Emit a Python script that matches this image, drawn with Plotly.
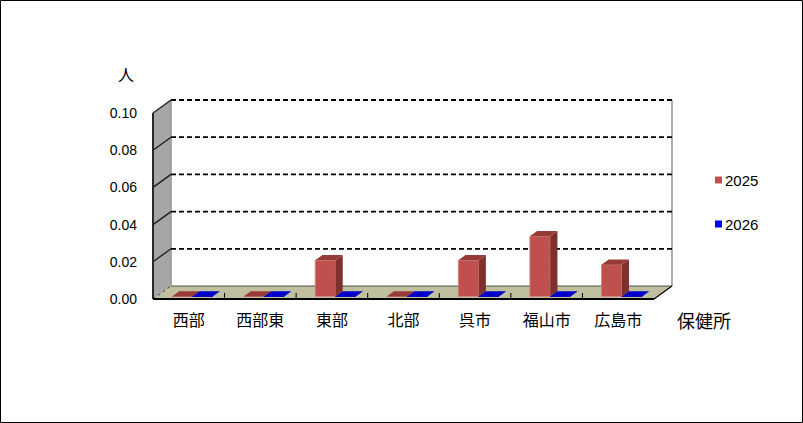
import plotly.graph_objects as go

# data
categories = ["西部", "西部東", "東部", "北部", "呉市", "福山市", "広島市"]
series_names = ["2025", "2026"]
values_2025 = [0, 0, 0.0194, 0, 0.0194, 0.0323, 0.0170]
values_2026 = [0, 0, 0, 0, 0, 0, 0]
y_ticks = [0.0, 0.02, 0.04, 0.06, 0.08, 0.10]
y_title = "人"
x_title = "保健所"

# geometry in pixels
W, H = 803, 423
n = len(categories)
ytop = y_ticks[-1]
FRONT_L, FRONT_R = 153, 654     # front floor edge
ZERO_Y, TOP_Y = 299, 113        # front axis 0 and ytop
FX = (FRONT_R - FRONT_L) / n    # px per category
SY = (ZERO_Y - TOP_Y) / ytop    # px per value unit
DX = 18 / FX                    # depth shift, category units
DY = 13 / SY                    # depth shift, value units
PAD = 4
Z0, Z1 = 0.2, 0.6               # bar depth (fraction of floor depth)
BW = 0.284                      # bar width, category units

L = FRONT_L - PAD
R = FRONT_R + 18 + PAD
T = TOP_Y - 13 - PAD
B = ZERO_Y + PAD

front_cols = ["rgb(192,80,77)", "rgb(0,0,200)"]
edge_cols = ["rgb(214,128,124)", "rgb(0,0,200)"]
top_cols = ["rgb(152,58,55)", "rgb(0,0,200)"]
side_cols = ["rgb(126,48,46)", "rgb(0,0,130)"]
legend_cols = ["rgb(192,80,77)", "rgb(0,0,255)"]

FONT = "Liberation Sans, Noto Sans CJK JP, sans-serif"


def px_x(px):
    return (px - L) / (R - L)


def px_y(py):
    return (B - py) / (B - T)


def polys(shapes_pts):
    xs, ys = [], []
    for pts in shapes_pts:
        for x, y in pts + [pts[0]]:
            xs.append(x)
            ys.append(y)
        xs.append(None)
        ys.append(None)
    return xs, ys


fig = go.Figure()

x0, x1 = -0.5, n - 0.5
shapes = []
# left wall
shapes.append(dict(type="path", layer="below", xref="x", yref="y",
                   path=f"M{x0},0 L{x0},{ytop} L{x0+DX},{ytop+DY} L{x0+DX},{DY} Z",
                   fillcolor="rgb(166,166,166)", line=dict(width=0)))
# floor
shapes.append(dict(type="path", layer="below", xref="x", yref="y",
                   path=f"M{x0},0 L{x1},0 L{x1+DX},{DY} L{x0+DX},{DY} Z",
                   fillcolor="rgb(192,192,160)", line=dict(width=0)))
# back wall edges
for xx in (x0 + DX, x1 + DX):
    shapes.append(dict(type="line", layer="below", xref="x", yref="y",
                       x0=xx, x1=xx, y0=DY, y1=ytop + DY,
                       line=dict(color="rgb(150,150,150)", width=1.5)))
# floor edges
shapes.append(dict(type="line", layer="below", xref="x", yref="y",
                   x0=x0 + DX, x1=x1 + DX, y0=DY, y1=DY,
                   line=dict(color="rgb(80,80,80)", width=1)))
shapes.append(dict(type="line", layer="below", xref="x", yref="y",
                   x0=x1, x1=x1 + DX, y0=0, y1=DY,
                   line=dict(color="black", width=1.2)))
shapes.append(dict(type="line", layer="below", xref="x", yref="y",
                   x0=x0, x1=x0 + DX, y0=0, y1=DY,
                   line=dict(color="rgb(60,60,60)", width=1, dash="dot")))
# gridlines on back wall + side wall
for t in y_ticks[1:]:
    shapes.append(dict(type="line", layer="below", xref="x", yref="y",
                       x0=x0 + DX, x1=x1 + DX, y0=t + DY, y1=t + DY,
                       line=dict(color="black", width=1.8, dash="5px,3px")))
    shapes.append(dict(type="line", layer="below", xref="x", yref="y",
                       x0=x0, x1=x0 + DX, y0=t, y1=t + DY,
                       line=dict(color="rgb(30,30,30)", width=1.4)))
# front axes
shapes.append(dict(type="line", xref="x", yref="y", x0=x0, x1=x0, y0=0, y1=ytop,
                   line=dict(color="rgb(40,40,40)", width=2)))
shapes.append(dict(type="line", xref="x", yref="y", x0=x0, x1=x1, y0=0, y1=0,
                   line=dict(color="black", width=2)))
# category boundary ticks on floor
for i in range(n - 1):
    shapes.append(dict(type="line", xref="x", yref="y", x0=i + 0.5, x1=i + 0.5,
                       y0=0, y1=6 * DY / 13, line=dict(color="black", width=1)))

# bars: front faces, then sides and tops
xs_idx = list(range(n))
all_vals = [values_2025, values_2026]
for k, vals in enumerate(all_vals):
    off = Z0 * DX - BW + k * BW
    fig.add_trace(go.Bar(x=xs_idx, y=vals, base=[Z0 * DY] * n, width=BW, offset=off,
                         marker=dict(color=front_cols[k],
                                     line=dict(width=0.8, color=edge_cols[k])),
                         name=series_names[k], showlegend=False))
    ddx, ddy = (Z1 - Z0) * DX, (Z1 - Z0) * DY
    tops, sides = [], []
    for i, v in enumerate(vals):
        xl = i + off
        xr = xl + BW
        yb = Z0 * DY
        yt = yb + v
        tops.append([(xl, yt), (xr, yt), (xr + ddx, yt + ddy), (xl + ddx, yt + ddy)])
        if v > 0:
            sides.append([(xr, yb), (xr, yt), (xr + ddx, yt + ddy), (xr + ddx, yb + ddy)])
    for pts, col in ((sides, side_cols[k]), (tops, top_cols[k])):
        if not pts:
            continue
        px_, py_ = polys(pts)
        fig.add_trace(go.Scatter(x=px_, y=py_, mode="lines", fill="toself",
                                 fillcolor=col, line=dict(width=0, color=col),
                                 hoverinfo="skip", showlegend=False))

# legend (drawn by hand)
annotations = []
for k, name in enumerate(series_names):
    cy = 180 + 44 * k
    shapes.append(dict(type="rect", xref="paper", yref="paper",
                       x0=px_x(715), x1=px_x(722), y0=px_y(cy + 3.5), y1=px_y(cy - 3.5),
                       fillcolor=legend_cols[k], line=dict(width=0)))
    annotations.append(dict(text=name, xref="paper", yref="paper", x=px_x(723), y=px_y(cy),
                            xanchor="left", yanchor="middle", showarrow=False,
                            font=dict(size=15, color="black", family=FONT)))

annotations.append(dict(text=y_title, xref="paper", yref="paper", x=px_x(126), y=px_y(75),
                        xanchor="center", yanchor="middle", showarrow=False,
                        font=dict(size=16, color="black", family=FONT)))
annotations.append(dict(text=x_title, xref="paper", yref="paper", x=px_x(704), y=px_y(322),
                        xanchor="center", yanchor="middle", showarrow=False,
                        font=dict(size=18, color="black", family=FONT)))

# outer frame
shapes.append(dict(type="rect", xref="paper", yref="paper",
                   x0=px_x(0.5), x1=px_x(W - 0.5), y0=px_y(H - 0.5), y1=px_y(0.5),
                   line=dict(color="black", width=1)))

fig.update_layout(
    width=W, height=H,
    margin=dict(l=L, r=W - R, t=T, b=H - B),
    paper_bgcolor="white", plot_bgcolor="white",
    barmode="overlay",
    font=dict(family=FONT, size=14, color="black"),
    showlegend=False,
    shapes=shapes,
    annotations=annotations,
    xaxis=dict(range=[x0 - PAD / FX, x1 + DX + PAD / FX], tickvals=xs_idx, ticktext=categories,
               showgrid=False, zeroline=False, showline=False, ticks="",
               tickfont=dict(size=16), ticklabelstandoff=10 - PAD, fixedrange=True),
    yaxis=dict(range=[-PAD / SY, ytop + DY + PAD / SY], tickvals=y_ticks, tickformat=".2f",
               showgrid=False, zeroline=False, showline=False, ticks="",
               tickfont=dict(size=14), ticklabelstandoff=15 - PAD, fixedrange=True),
)

fig.write_html("out.html", config={"displayModeBar": False},
               post_script="document.body.style.margin='0';")
